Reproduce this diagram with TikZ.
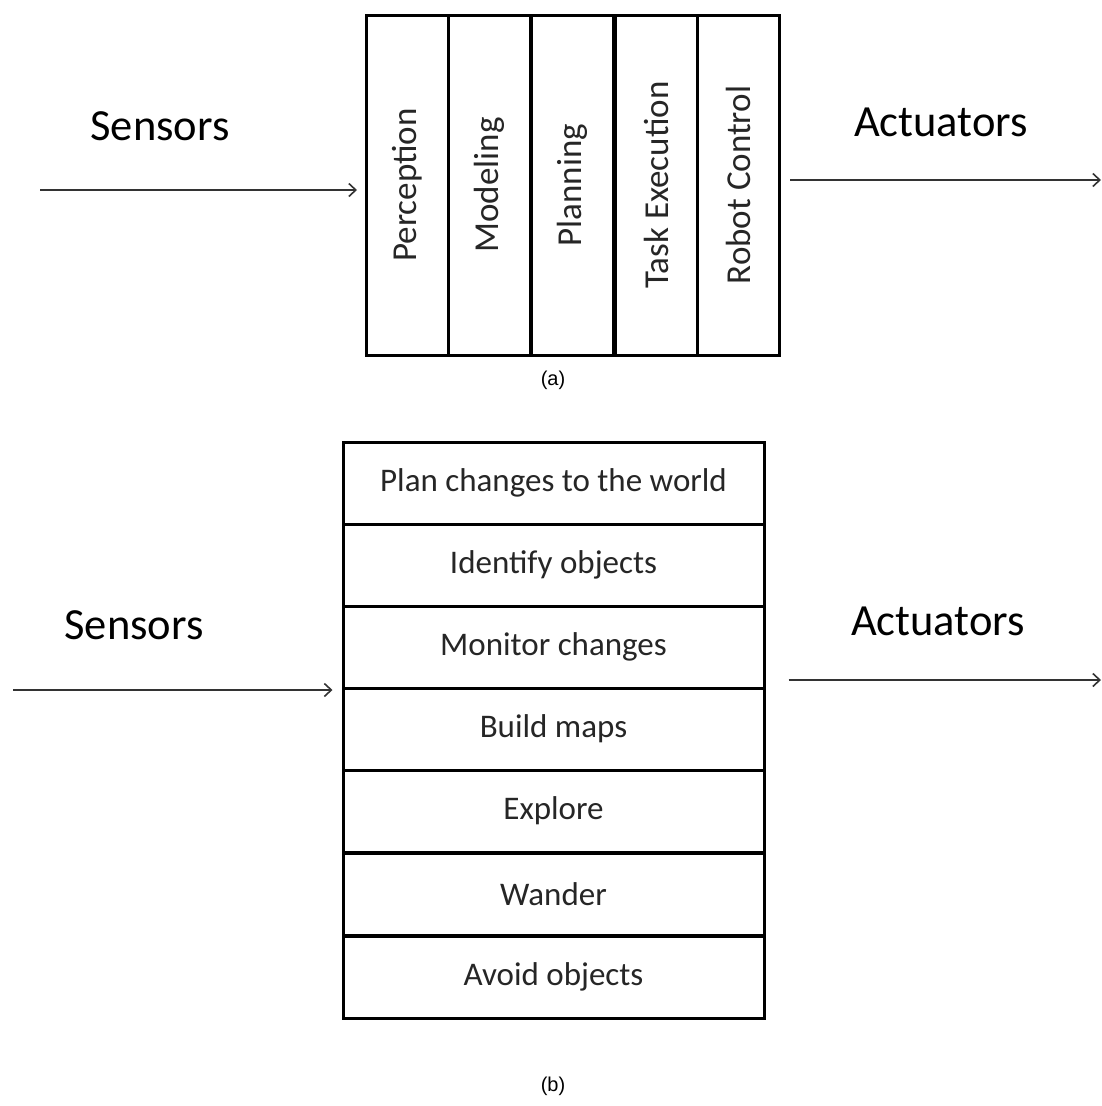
\documentclass[tikz,border=0pt]{standalone}
\usepackage{fontspec}
\setmainfont{Carlito}
\newfontfamily\capfont{Liberation Sans}
\usetikzlibrary{arrows.meta}
\begin{document}
\begin{tikzpicture}[x=1pt,y=-1pt,
  cell/.style={draw=black,line width=3pt,inner sep=0pt,text=black!85},
  colcell/.style={cell,rotate=90,minimum width=340pt,minimum height=82pt,font=\fontsize{35}{38}\selectfont},
  rowcell/.style={cell,minimum width=421pt,minimum height=82pt,font=\fontsize{33}{36}\selectfont},
  lbl/.style={font=\fontsize{44.5}{48}\selectfont,text=black,inner sep=0pt},
  figcap/.style={font=\capfont\fontsize{20}{24}\selectfont,inner sep=0pt},
  arr/.style={draw=black!80,line width=2pt,-{Straight Barb[length=7pt,width=13pt,line width=1.6pt]}}]
\useasboundingbox[fill=white] (0,0) rectangle (1101,1106);

% (a) horizontal decomposition into functional columns
\node[colcell] (p1) at (407.5,185) {Perception};
\node[colcell] (p2) at (489.5,185) {Modeling};
\node[colcell] (p3) at (572.5,185) {Planning};
\node[colcell] (p4) at (656,185) {Task Execution};
\node[colcell] (p5) at (738.5,185) {Robot Control};

\node[lbl] (sa) at (160,126) {Sensors};
\node[lbl] (aa) at (941,122) {Actuators};
\coordinate (sina) at (40,190);
\coordinate (souta) at (1101,180);
\draw[arr,shorten >=8pt] (sina) -- (p1.north |- sina);
\draw[arr] ([xshift=9pt]p5.south |- souta) -- (souta);
\node[figcap] (ca) at (553,380) {(a)};

% (b) vertical decomposition into behaviour layers
\node[rowcell] (b1) at (553.5,483) {Plan changes to the world};
\node[rowcell] (b2) at (553.5,565) {Identify objects};
\node[rowcell] (b3) at (553.5,647) {Monitor changes};
\node[rowcell] (b4) at (553.5,729) {Build maps};
\node[rowcell] (b5) at (553.5,811) {Explore};
\node[rowcell] (b6) at (553.5,894) {Wander};
\node[rowcell] (b7) at (553.5,977) {Avoid objects};

\node[lbl] (sb) at (134,625) {Sensors};
\node[lbl] (ab) at (938,621) {Actuators};
\coordinate (sinb) at (13,690);
\coordinate (soutb) at (1101,680);
\draw[arr,shorten >=9pt] (sinb) -- (b4.west |- sinb);
\draw[arr] ([xshift=23pt]b3.east |- soutb) -- (soutb);
\node[figcap] (cb) at (553,1086) {(b)};
\end{tikzpicture}
\end{document}
